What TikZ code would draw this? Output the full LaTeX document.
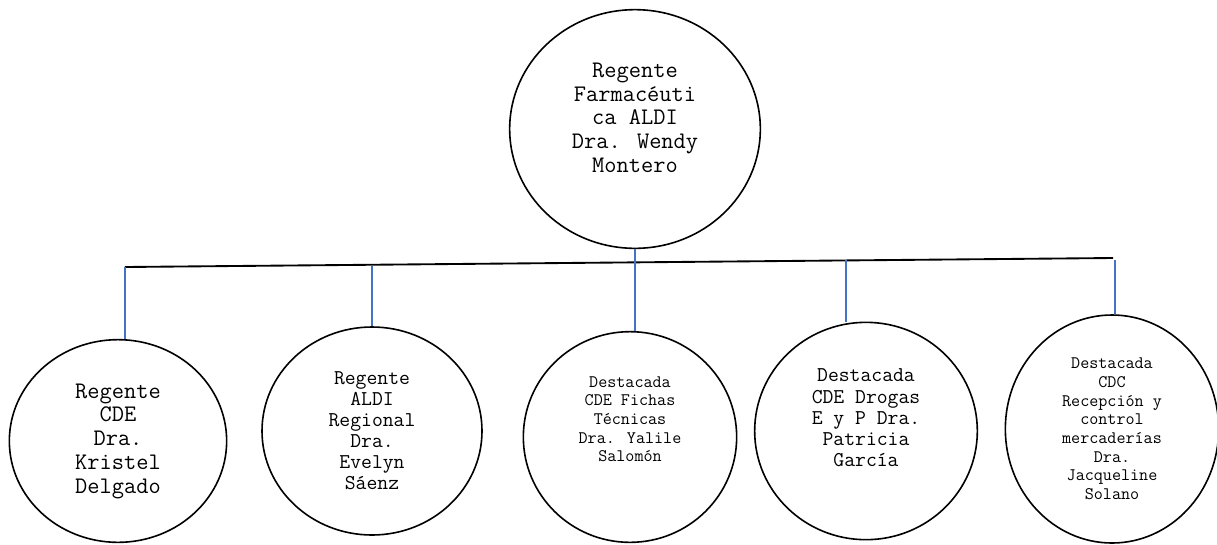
\documentclass[tikz,border=0pt]{standalone}
\usepackage{fontspec}
\usetikzlibrary{shapes.geometric}
\definecolor{stubblue}{RGB}{68,114,196}
\tikzset{
  person/.style={ellipse, draw, line width=1.2pt, align=center, inner sep=0pt},
  bigtext/.style={font=\ttfamily\fontsize{17.8}{17.8}\selectfont},
  midtext/.style={font=\ttfamily\fontsize{15.8}{15.8}\selectfont},
  smalltext/.style={font=\ttfamily\fontsize{13.2}{14}\selectfont},
  bar/.style={line width=1.4pt},
  stub/.style={stubblue, line width=1pt}
}

\begin{document}
\begin{tikzpicture}[x=0.75pt, y=-0.75pt]
  \useasboundingbox (0,0) rectangle (1217,544);

  % head
  \node (top) [person, bigtext, minimum width=188pt, minimum height=179pt, text depth=17pt] at (635,129)
    {Regente\\Farmacéuti\\ca ALDI\\Dra. Wendy\\Montero};

  % staff
  \node (cde) [person, bigtext, minimum width=163pt, minimum height=152pt] at (118,441)
    {Regente\\CDE\\Dra.\\Kristel\\Delgado};
  \node (regional) [person, midtext, minimum width=165pt, minimum height=156pt] at (372,431)
    {Regente\\ALDI\\Regional\\Dra.\\Evelyn\\Sáenz};
  \node (fichas) [person, smalltext, minimum width=160pt, minimum height=158pt, text depth=27pt] at (630,437)
    {Destacada\\CDE Fichas\\Técnicas\\Dra. Yalile\\Salomón};
  \node (drogas) [person, midtext, minimum width=167pt, minimum height=163pt, text depth=20pt] at (866,431)
    {Destacada\\CDE Drogas\\E y P Dra.\\Patricia\\García};
  \node (cdc) [person, smalltext, minimum width=160pt, minimum height=171pt] at (1112,429)
    {Destacada\\CDC\\Recepción y\\control\\mercaderías\\Dra.\\Jacqueline\\Solano};

  \coordinate (hl) at (125,267);
  \coordinate (hr) at (1113,258);
  \coordinate (b2) at (372,266);
  \coordinate (b4) at (846,260);
  \coordinate (b5) at (1115,260);

  \draw[bar] (hl) -- (hr);
  \draw[stub] (hl) -- (hl |- cde.north);
  \draw[stub] (b2) -- (b2 |- regional.north);
  \draw[stub] (top.south) -- (top.south |- fichas.north);
  \draw[stub] (b4) -- (b4 |- drogas.north);
  \draw[stub] (b5) -- (b5 |- cdc.north);
\end{tikzpicture}
\end{document}
